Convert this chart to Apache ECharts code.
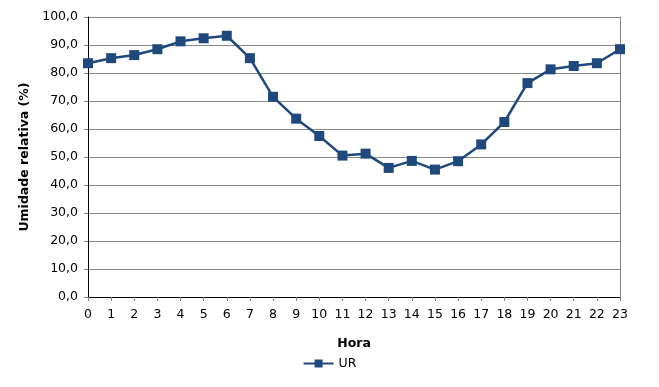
<!DOCTYPE html>
<html><head><meta charset="utf-8">
<script src="https://cdn.jsdelivr.net/npm/echarts@6/dist/echarts.min.js"></script>
<style>html,body{margin:0;padding:0;background:#fff}#c{width:659px;height:387px}</style>
</head><body><div id="c"></div>
<script>
const hours = ['0','1','2','3','4','5','6','7','8','9','10','11','12','13','14','15','16','17','18','19','20','21','22','23'];
const ur = [83.5,85.3,86.4,88.5,91.3,92.4,93.3,85.3,71.5,63.7,57.5,50.5,51.2,46.1,48.6,45.5,48.5,54.5,62.5,76.4,81.3,82.5,83.5,88.5];
const yTicks = {min:0, max:100, interval:10};
const font = 'DejaVu Sans';
const chart = echarts.init(document.getElementById('c'), null, {renderer:'canvas'});
chart.setOption({
  animation:false,
  backgroundColor:'#fff',
  textStyle:{fontFamily:font},
  grid:{left:88, right:39, top:17, bottom:90, containLabel:false},
  legend:{bottom:12, left:'center', itemWidth:30, itemHeight:10, itemGap:4,
    textStyle:{fontFamily:font, fontSize:12.5, color:'#000'}, data:['UR']},
  xAxis:[{
    type:'category', data:hours, boundaryGap:false,
    name:'Hora', nameLocation:'middle', nameGap:40,
    nameTextStyle:{fontFamily:font, fontWeight:'bold', fontSize:12.5, color:'#000'},
    axisLine:{lineStyle:{color:'#868686', width:1}},
    axisTick:{show:true, length:4, lineStyle:{color:'#868686'}},
    axisLabel:{fontFamily:font, fontSize:12.5, color:'#000', margin:11, interval:0},
    splitLine:{show:false}
  },{
    type:'category', data:hours, boundaryGap:false, position:'top',
    axisLine:{lineStyle:{color:'#000', width:1}}, axisTick:{show:false}, axisLabel:{show:false}
  }],
  yAxis:[{
    type:'value', min:yTicks.min, max:yTicks.max, interval:yTicks.interval,
    name:'Umidade relativa (%)', nameLocation:'middle', nameGap:51,
    nameTextStyle:{fontFamily:font, fontWeight:'bold', fontSize:12.5, color:'#000'},
    axisLine:{show:true, lineStyle:{color:'#000', width:1}},
    axisTick:{show:true, length:4, lineStyle:{color:'#868686'}},
    axisLabel:{fontFamily:font, fontSize:12.5, color:'#000', margin:10,
      formatter:v=>v.toFixed(1).replace('.',',')},
    splitLine:{show:true, lineStyle:{color:'#868686', width:1}}
  },{
    type:'value', min:yTicks.min, max:yTicks.max, interval:yTicks.interval, position:'right',
    axisLine:{show:true, lineStyle:{color:'#868686', width:1}}, axisTick:{show:false},
    axisLabel:{show:false}, splitLine:{show:false}
  }],
  series:[{
    name:'UR', type:'line', data:ur, symbol:'rect', symbolSize:10,
    lineStyle:{color:'#1F497D', width:2.5}, itemStyle:{color:'#1F497D'}
  }]
});
</script></body></html>
